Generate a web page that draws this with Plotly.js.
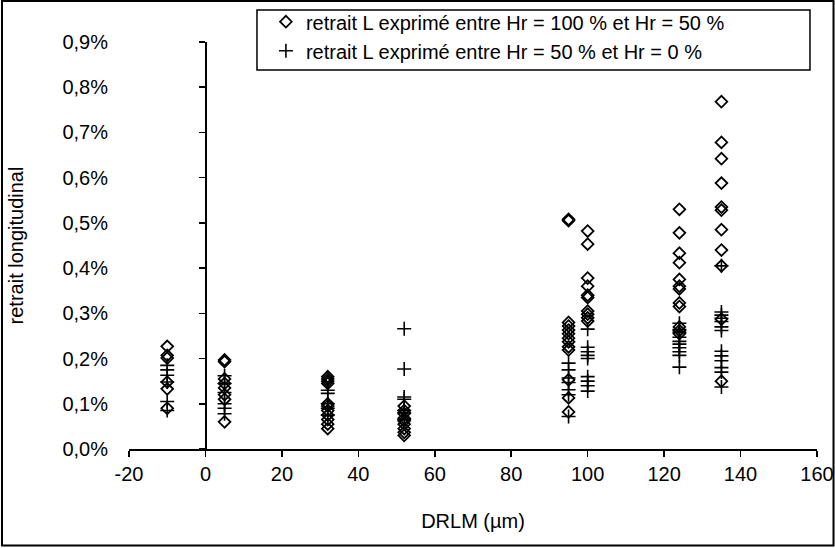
<!DOCTYPE html>
<html>
<head>
<meta charset="utf-8">
<script src="https://cdn.plot.ly/plotly-3.0.1.min.js"></script>
<style>html,body{margin:0;padding:0;background:#fff;}#chart{width:835px;height:548px;}</style>
</head>
<body>
<div id="chart"></div>
<script>
// DRLM values (µm) of each column of measurements
const columns = [-10, 5, 32, 52, 95, 100, 124, 135];

// retrait L between Hr = 100 % and Hr = 50 % (values in %)
const diamondVals = [
  [0.227, 0.207, 0.201, 0.148, 0.133, 0.090],
  [0.197, 0.193, 0.155, 0.145, 0.135, 0.120, 0.110, 0.060],
  [0.160, 0.155, 0.150, 0.145, 0.100, 0.095, 0.085, 0.075, 0.065, 0.055, 0.045],
  [0.095, 0.085, 0.078, 0.068, 0.062, 0.055, 0.045, 0.037, 0.030],
  [0.508, 0.505, 0.280, 0.272, 0.263, 0.255, 0.245, 0.237, 0.226, 0.219, 0.153, 0.113, 0.082],
  [0.482, 0.453, 0.378, 0.360, 0.340, 0.335, 0.305, 0.298, 0.290, 0.283],
  [0.530, 0.478, 0.433, 0.412, 0.375, 0.360, 0.354, 0.323, 0.315, 0.270, 0.262, 0.255],
  [0.768, 0.678, 0.642, 0.588, 0.535, 0.528, 0.485, 0.440, 0.405, 0.287, 0.150]
];

// retrait L between Hr = 50 % and Hr = 0 % (values in %)
const crossVals = [
  [0.185, 0.175, 0.163, 0.148, 0.105, 0.085],
  [0.162, 0.145, 0.125, 0.100, 0.090, 0.078],
  [0.130, 0.123, 0.100, 0.090, 0.075],
  [0.266, 0.177, 0.115, 0.110, 0.085, 0.080, 0.065],
  [0.190, 0.175, 0.157, 0.147, 0.131, 0.120, 0.072],
  [0.265, 0.225, 0.215, 0.207, 0.200, 0.160, 0.150, 0.140, 0.128],
  [0.278, 0.264, 0.258, 0.247, 0.238, 0.232, 0.224, 0.215, 0.207, 0.181],
  [0.405, 0.303, 0.296, 0.289, 0.282, 0.270, 0.262, 0.216, 0.206, 0.195, 0.180, 0.170, 0.137]
];

const seriesNames = [
  'retrait L exprimé entre Hr = 100 % et Hr = 50 %',
  'retrait L exprimé entre Hr = 50 % et Hr = 0 %'
];
const yTickVals = [0, 0.001, 0.002, 0.003, 0.004, 0.005, 0.006, 0.007, 0.008, 0.009];
const yTickText = ['0,0%', '0,1%', '0,2%', '0,3%', '0,4%', '0,5%', '0,6%', '0,7%', '0,8%', '0,9%'];
const xTickVals = [-20, 0, 20, 40, 60, 80, 100, 120, 140, 160];
const xTickText = ['-20', '0', '20', '40', '60', '80', '100', '120', '140', '160'];

function flatten(vals) {
  const xs = [], ys = [];
  vals.forEach((col, i) => col.forEach(v => { xs.push(columns[i]); ys.push(v / 100); }));
  return {xs, ys};
}
const d = flatten(diamondVals);
const c = flatten(crossVals);

const FONT = 'Liberation Sans, Arial, sans-serif';
const FS = 20;

const traces = [
  {
    x: d.xs, y: d.ys, type: 'scatter', mode: 'markers', name: seriesNames[0],
    legendgroup: 'a',
    marker: {symbol: 'diamond-open', size: 9, color: '#000', line: {width: 1.8, color: '#000'}},
    hoverinfo: 'x+y'
  },
  {
    x: c.xs, y: c.ys, type: 'scatter', mode: 'markers', name: seriesNames[1],
    legendgroup: 'b', yaxis: 'y2',
    marker: {symbol: 'cross-thin-open', size: 10, color: '#000', line: {width: 1.6, color: '#000'}},
    hoverinfo: 'x+y'
  }
];

const layout = {
  width: 835, height: 548,
  margin: {l: 129, r: 18, t: 42, b: 99, pad: 0, autoexpand: false},
  paper_bgcolor: '#fff', plot_bgcolor: '#fff',
  font: {family: FONT, size: FS, color: '#000'},
  showlegend: true,
  legend: {
    x: 0.199, y: 0.996, xanchor: 'left', yanchor: 'top', yref: 'container',
    bgcolor: 'rgba(0,0,0,0)', borderwidth: 0,
    font: {family: FONT, size: FS, color: '#000'},
    tracegroupgap: 0, itemwidth: 30
  },
  xaxis: {
    range: [-20, 160], tickvals: xTickVals, ticktext: xTickText,
    ticks: 'outside', ticklen: 6, tickwidth: 1.5, tickcolor: '#000',
    showline: true, linecolor: '#000', linewidth: 1.5, showgrid: false, zeroline: false,
    tickfont: {family: FONT, size: FS, color: '#000'},
    title: {text: 'DRLM (µm)', font: {family: FONT, size: FS, color: '#000'}, standoff: 30}
  },
  yaxis: {
    range: [0, 0.009], tickvals: yTickVals, ticktext: yTickText,
    ticks: 'outside', ticklen: 16, tickcolor: 'rgba(0,0,0,0)',
    showline: false, showgrid: false, zeroline: false,
    tickfont: {family: FONT, size: FS, color: '#000'},
    title: {text: 'retrait longitudinal', font: {family: FONT, size: FS, color: '#000'}, standoff: 33}
  },
  yaxis2: {
    range: [0, 0.009], tickvals: yTickVals, overlaying: 'y', anchor: 'free', position: 20 / 180,
    side: 'left', ticks: 'outside', ticklen: 6, tickwidth: 1.5, tickcolor: '#000',
    showline: true, linecolor: '#000', linewidth: 1.5, showgrid: false, zeroline: false,
    showticklabels: false
  },
  shapes: [
    // legend frame
    {type: 'rect', xref: 'paper', yref: 'paper', x0: 0.186, x1: 0.9898, y0: 0.931, y1: 1.0786,
     line: {color: '#000', width: 1.5}, fillcolor: '#fff', layer: 'above'},
    // outer chart border
    {type: 'rect', xref: 'paper', yref: 'paper', x0: -0.1846, x1: 1.0240, y0: -0.2370, y1: 1.1007,
     line: {color: '#000', width: 2}, fillcolor: 'rgba(0,0,0,0)', layer: 'above'}
  ]
};

Plotly.newPlot('chart', traces, layout, {displayModeBar: false, staticPlot: true});
</script>
</body>
</html>
